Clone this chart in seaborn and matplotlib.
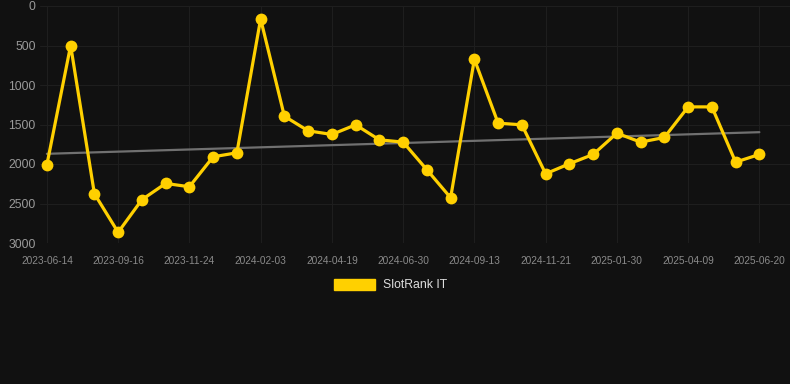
import numpy as np
import pandas as pd
import matplotlib
matplotlib.use("Agg")
import matplotlib.pyplot as plt
import seaborn as sns
from matplotlib.patches import Patch

# rank values (lower = better, y axis inverted)
rank = [2010, 500, 2376, 2865, 2452, 2246, 2288, 1909, 1858, 164,
        1395, 1580, 1626, 1504, 1694, 1723, 2073, 2427, 674, 1483,
        1504, 2124, 1997, 1879, 1610, 1723, 1664, 1277, 1277, 1976, 1879]
tick_labels = ['2023-06-14', '2023-09-16', '2023-11-24', '2024-02-03',
               '2024-04-19', '2024-06-30', '2024-09-13', '2024-11-21',
               '2025-01-30', '2025-04-09', '2025-06-20']
y_ticks = [0, 500, 1000, 1500, 2000, 2500, 3000]

df = pd.DataFrame({'idx': np.arange(len(rank)), 'rank': rank})

bg = '#111111'
gold = '#ffd000'

sns.set_theme(style='dark')
plt.rcParams['font.family'] = ['Liberation Sans', 'DejaVu Sans']

fig = plt.figure(figsize=(7.9, 3.84), dpi=100, facecolor=bg)
ax = fig.add_axes([40 / 790, 1 - 243 / 384, 750 / 790, 237 / 384])
ax.set_facecolor(bg)

# trend line
sns.regplot(data=df, x='idx', y='rank', scatter=False, ci=None, ax=ax,
            color='#707070', line_kws={'linewidth': 1.6})

sns.lineplot(data=df, x='idx', y='rank', ax=ax, color=gold, linewidth=2.3,
             marker='o', markersize=8.5, markeredgewidth=0, zorder=3)

ax.set_xlim(-0.29, 31.29)
ax.set_ylim(3000, 0)
ax.set_yticks(y_ticks)
ax.set_yticklabels([str(v) for v in y_ticks])
ax.set_xticks(df['idx'][::3])
ax.set_xticklabels(tick_labels)
ax.tick_params(axis='y', colors='#9a9a9a', labelsize=8.8, length=0, pad=3)
ax.tick_params(axis='x', colors='#8a8a8a', labelsize=7.3, length=0, pad=9)

ax.grid(True, color='#1e1e1e', linewidth=0.8)
for s in ax.spines.values():
    s.set_visible(False)
ax.set_xlabel('')
ax.set_ylabel('')

handles = [Patch(facecolor=gold, edgecolor=gold, label='SlotRank IT')]
fig.legend(handles=handles, loc='center', bbox_to_anchor=(0.494, 1 - 285 / 384),
           frameon=False, fontsize=8.8, labelcolor='#dddddd',
           handlelength=3.4, handleheight=1.0, handletextpad=0.6)

fig.savefig('out.png', dpi=100, facecolor=bg)
